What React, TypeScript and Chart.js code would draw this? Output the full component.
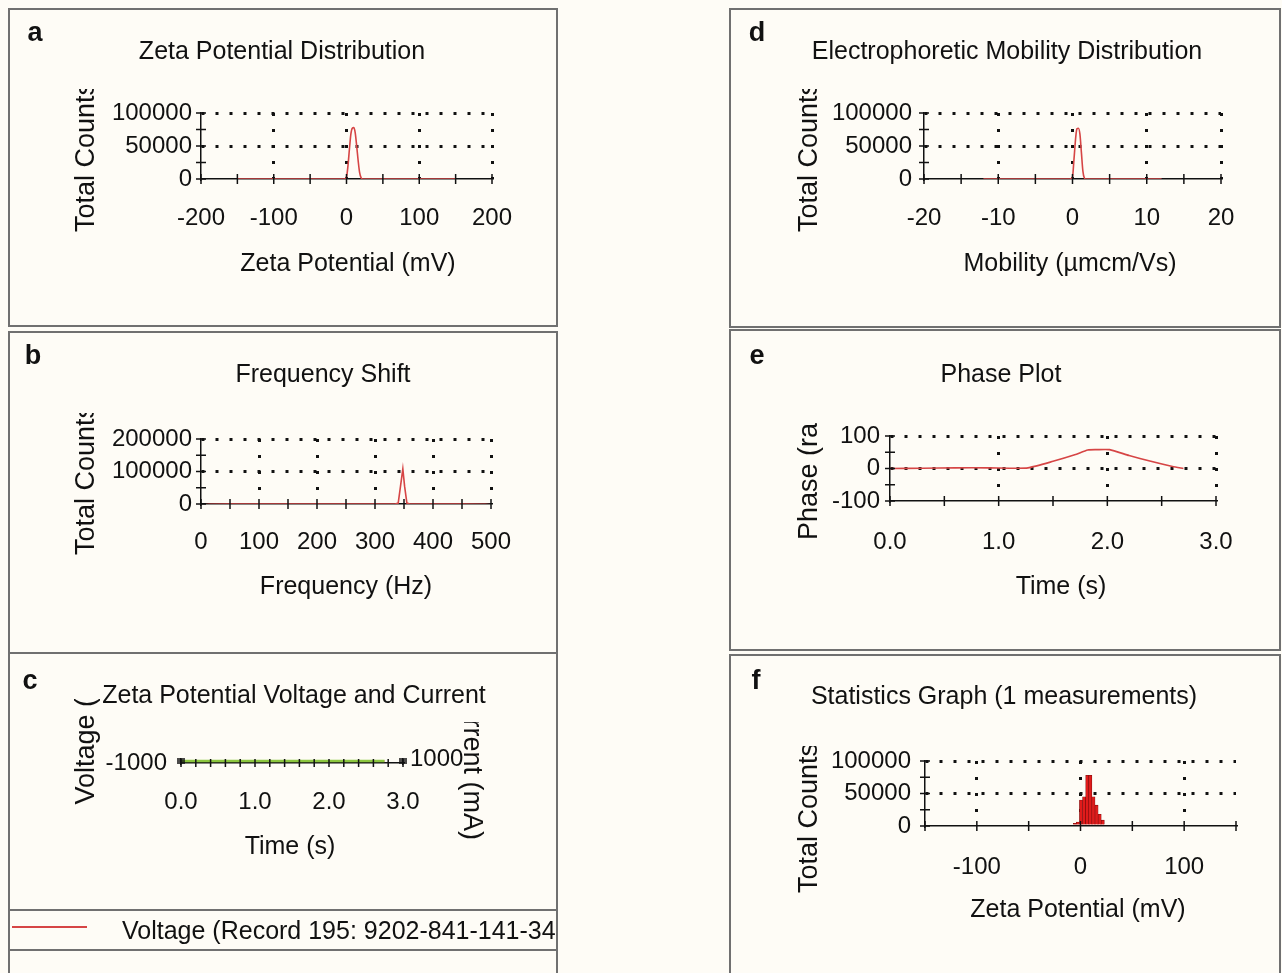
import React, { useEffect, useRef } from 'react';
import { Chart, registerables } from 'chart.js';
Chart.register(...registerables);

// ---------------- data ----------------
// a: Zeta Potential Distribution
const zetaX = [-150, -100, -50, -10, -3, 0, 2, 4, 6, 8, 10, 12, 14, 16, 18, 20, 22, 50, 100, 150];
const zetaY = [0, 0, 0, 0, 0, 3000, 20000, 45000, 68000, 77000, 78000, 70000, 50000, 28000, 10000, 2000, 0, 0, 0, 0];

// b: Frequency Shift
const freqX = [0, 5, 15, 50, 100, 200, 300, 335, 340, 344, 348, 351, 355, 360, 400, 450, 490, 500];
const freqY = [-3000, -2500, -1000, 0, 0, 0, 0, 0, 3000, 55000, 108000, 55000, 3000, 0, 0, 0, -1000, -2500];

// c: Zeta Potential Voltage and Current
const timeC = [0, 0.5, 1.0, 1.5, 2.0, 2.5, 2.75];
const voltageY = [0, 0, 0, 0, 0, 0, 0];
const currentY = [0, 0, 0, 0, 0, 0, 0];

// d: Electrophoretic Mobility Distribution
const mobX = [-12, -8, -4, -1, -0.3, 0, 0.2, 0.45, 0.6, 0.8, 1.0, 1.2, 1.4, 1.6, 1.8, 4, 8, 12];
const mobY = [0, 0, 0, 0, 0, 3000, 30000, 65000, 76000, 77000, 68000, 40000, 12000, 1500, 0, 0, 0, 0];

// e: Phase Plot
const phaseX = [0, 0.3, 0.6, 0.9, 1.1, 1.27, 1.5, 1.7, 1.82, 1.9, 2.02, 2.2, 2.4, 2.6, 2.7];
const phaseY = [0, 1, 2, 2, 1, 2, 22, 42, 57, 58, 58, 40, 22, 6, 0];

// f: Statistics Graph
const statBins = [-5.5, -2.5, 0.5, 3.5, 6.5, 9.5, 12.5, 15.5, 18.5, 21.5];
const statCounts = [4000, 6000, 40000, 45000, 78000, 78000, 45000, 32000, 18000, 9000];

// ---------------- style ----------------
const FONT = "'Liberation Sans', Arial, Helvetica, sans-serif";
const INK = '#111';
const BG = '#fefcf6';
const FRAME = '#707070';
const RED = '#d64545';
const GREEN = '#8cc63f';

type Box = { x: number; y: number; w: number; h: number };
type Plot = { l: number; t: number; r: number; b: number };

interface AxisSpec {
  min: number; max: number; step: number;
  label: (v: number) => string;
  grid: (v: number) => boolean;
  pad: number; size: number; position?: string;
}

const near = (v: number, k: number) => Math.abs(v / k - Math.round(v / k)) < 1e-9;

function axis(spec: AxisSpec, horizontal: boolean) {
  const dash = horizontal ? [3, 13] : [3, 11];
  return {
    type: 'linear',
    position: spec.position ?? (horizontal ? 'bottom' : 'left'),
    min: spec.min,
    max: spec.max,
    offset: false,
    ticks: {
      stepSize: spec.step,
      autoSkip: false,
      maxRotation: 0,
      minRotation: 0,
      padding: spec.pad,
      color: INK,
      font: { family: FONT, size: 24 },
      callback: (v: any) => spec.label(Number(v)),
    },
    grid: {
      drawTicks: false,
      offset: false,
      lineWidth: 3,
      borderDash: dash,
      color: (c: any) => (c.tick && spec.grid(c.tick.value) ? INK : 'rgba(0,0,0,0)'),
    },
    border: { display: true, color: INK, width: 1.5, dash },
    afterFit: (s: any) => {
      if (horizontal) s.height = spec.size;
      else s.width = spec.size;
    },
  };
}

function crossTicks(len: number) {
  return {
    id: 'crossTicks',
    afterDraw(chart: any) {
      const ctx = chart.ctx;
      ctx.save();
      ctx.strokeStyle = INK;
      ctx.lineWidth = 1.5;
      Object.values(chart.scales).forEach((s: any) => {
        s.ticks.forEach((_t: any, i: number) => {
          const p = s.getPixelForTick(i);
          ctx.beginPath();
          if (s.isHorizontal()) {
            const y = s.position === 'bottom' ? s.top : s.bottom;
            ctx.moveTo(p, y - len);
            ctx.lineTo(p, y + len);
          } else {
            const x = s.position === 'left' ? s.right : s.left;
            ctx.moveTo(x - len, p);
            ctx.lineTo(x + len, p);
          }
          ctx.stroke();
        });
      });
      ctx.restore();
    },
  };
}

function padFor(box: Box, plot: Plot, yW: number, xH: number, rW = 0) {
  return {
    left: plot.l - box.x - yW,
    top: plot.t - box.y,
    right: box.x + box.w - plot.r - rW,
    bottom: box.y + box.h - plot.b - xH,
  };
}

const zip = (xs: number[], ys: number[]) => xs.map((x, i) => ({ x, y: ys[i] }));

function baseOptions(padding: any, scales: any) {
  return {
    responsive: false,
    animation: false,
    devicePixelRatio: 1,
    layout: { padding },
    plugins: { legend: { display: false }, tooltip: { enabled: false }, title: { display: false } },
    scales,
  };
}

function lineDs(xs: number[], ys: number[], color: string, extra: any = {}) {
  return {
    data: zip(xs, ys),
    borderColor: color,
    borderWidth: 1.6,
    pointRadius: 0,
    cubicInterpolationMode: 'monotone',
    fill: false,
    ...extra,
  };
}

// ---------------- panels ----------------
const boxA: Box = { x: 8, y: 8, w: 550, h: 318 };
const plotA: Plot = { l: 201, t: 113, r: 492, b: 179 };
const boxB: Box = { x: 8, y: 332, w: 549, h: 321 };
const plotB: Plot = { l: 201, t: 439, r: 491, b: 504 };
const boxC: Box = { x: 8, y: 653, w: 549, h: 320 };
const plotC: Plot = { l: 181, t: 759, r: 403, b: 763 };
const boxD: Box = { x: 729, y: 8, w: 551, h: 319 };
const plotD: Plot = { l: 924, t: 113, r: 1221, b: 179 };
const boxE: Box = { x: 729, y: 330, w: 551, h: 320 };
const plotE: Plot = { l: 890, t: 436, r: 1216, b: 501 };
const boxF: Box = { x: 729, y: 655, w: 551, h: 318 };
const plotF: Plot = { l: 925, t: 761, r: 1236, b: 826 };

const countsY = (pad: number): AxisSpec => ({
  min: 0, max: 100000, step: 25000,
  label: (v) => (near(v, 50000) ? String(v) : ''),
  grid: (v) => v > 0 && near(v, 50000),
  pad, size: 120,
});

function cfgA() {
  return {
    type: 'line',
    data: { datasets: [lineDs(zetaX, zetaY, RED)] },
    options: baseOptions(padFor(boxA, plotA, 120, 60), {
      x: axis({ min: -200, max: 200, step: 50, label: (v) => (near(v, 100) ? String(v) : ''), grid: (v) => v > -200 && near(v, 100), pad: 25, size: 60 }, true),
      y: axis(countsY(9), false),
    }),
    plugins: [crossTicks(5)],
  };
}

function cfgB() {
  return {
    type: 'line',
    data: { datasets: [lineDs(freqX, freqY, RED, { cubicInterpolationMode: 'default', tension: 0 })] },
    options: baseOptions(padFor(boxB, plotB, 120, 60), {
      x: axis({ min: 0, max: 500, step: 50, label: (v) => (near(v, 100) ? String(v) : ''), grid: (v) => v > 0 && near(v, 100), pad: 24, size: 60 }, true),
      y: axis({ min: 0, max: 200000, step: 50000, label: (v) => (near(v, 100000) ? String(v) : ''), grid: (v) => v > 0 && near(v, 100000), pad: 9, size: 120 }, false),
    }),
    plugins: [crossTicks(5)],
  };
}

function cfgC() {
  return {
    type: 'line',
    data: {
      datasets: [
        lineDs(timeC, currentY, GREEN, { yAxisID: 'y1', borderWidth: 2.5 }),
        lineDs(timeC, voltageY, RED, { yAxisID: 'y' }),
      ],
    },
    options: baseOptions(padFor(boxC, plotC, 90, 60, 70), {
      x: axis({ min: 0, max: 3, step: 0.2, label: (v) => (near(v, 1) ? v.toFixed(1) : ''), grid: () => false, pad: 25, size: 60 }, true),
      y: axis({ min: -1000, max: 1000, step: 2000, label: (v) => (v === -1000 ? '-1000' : ''), grid: () => false, pad: 14, size: 90 }, false),
      y1: axis({ min: -1000, max: 1000, step: 2000, label: (v) => (v === 1000 ? '1000' : ''), grid: () => false, pad: 7, size: 70, position: 'right' }, false),
    }),
    plugins: [crossTicks(4)],
  };
}

function cfgD() {
  return {
    type: 'line',
    data: { datasets: [lineDs(mobX, mobY, RED)] },
    options: baseOptions(padFor(boxD, plotD, 120, 60), {
      x: axis({ min: -20, max: 20, step: 5, label: (v) => (near(v, 10) ? String(v) : ''), grid: (v) => v > -20 && near(v, 10), pad: 25, size: 60 }, true),
      y: axis(countsY(12), false),
    }),
    plugins: [crossTicks(5)],
  };
}

function cfgE() {
  return {
    type: 'line',
    data: { datasets: [lineDs(phaseX, phaseY, RED, { cubicInterpolationMode: 'default', tension: 0.2 })] },
    options: baseOptions(padFor(boxE, plotE, 100, 60), {
      x: axis({ min: 0, max: 3, step: 0.5, label: (v) => (near(v, 1) ? v.toFixed(1) : ''), grid: (v) => v > 0 && near(v, 1), pad: 27, size: 60 }, true),
      y: axis({ min: -100, max: 100, step: 50, label: (v) => (near(v, 100) ? String(v) : ''), grid: (v) => v > -100 && near(v, 100), pad: 10, size: 100 }, false),
    }),
    plugins: [crossTicks(5)],
  };
}

function cfgF() {
  return {
    type: 'bar',
    data: {
      datasets: [
        {
          data: zip(statBins, statCounts),
          backgroundColor: '#e01b1b',
          borderColor: '#7a0d0d',
          borderWidth: 0.6,
          barPercentage: 1,
          categoryPercentage: 1,
        },
      ],
    },
    options: baseOptions(padFor(boxF, plotF, 120, 60), {
      x: axis({ min: -150, max: 150, step: 50, label: (v) => (near(v, 100) ? String(v) : ''), grid: (v) => v > -150 && near(v, 100), pad: 27, size: 60 }, true),
      y: axis(countsY(14), false),
    }),
    plugins: [crossTicks(5)],
  };
}

// ---------------- components ----------------
function ChartCanvas({ box, make }: { box: Box; make: () => any }) {
  const ref = useRef<HTMLCanvasElement>(null);
  useEffect(() => {
    const chart = new Chart(ref.current as HTMLCanvasElement, make());
    return () => chart.destroy();
  }, []);
  return (
    <canvas
      ref={ref}
      width={box.w}
      height={box.h}
      style={{ position: 'absolute', left: box.x, top: box.y, width: box.w, height: box.h }}
    />
  );
}

function Frame({ x, y, w, h, sides = 'ltrb' }: { x: number; y: number; w: number; h: number; sides?: string }) {
  const b = `2px solid ${FRAME}`;
  return (
    <div
      style={{
        position: 'absolute', left: x, top: y, width: w, height: h, boxSizing: 'border-box',
        borderLeft: sides.includes('l') ? b : 'none',
        borderTop: sides.includes('t') ? b : 'none',
        borderRight: sides.includes('r') ? b : 'none',
        borderBottom: sides.includes('b') ? b : 'none',
      }}
    />
  );
}

function Txt({ x, y, s = 25, bold = false, children }: { x: number; y: number; s?: number; bold?: boolean; children: any }) {
  return (
    <div
      style={{
        position: 'absolute', left: x, top: y, transform: 'translate(-50%, -50%)',
        font: `${bold ? 'bold ' : ''}${s}px ${FONT}`, lineHeight: 1, whiteSpace: 'nowrap', color: INK,
      }}
    >
      {children}
    </div>
  );
}

function VTitle({ cx, end, clipTop, text, s = 27, dir = 'up' }: { cx: number; end: number; clipTop: number; text: string; s?: number; dir?: string }) {
  const h = end - clipTop + 10;
  return (
    <div style={{ position: 'absolute', left: cx - 25, top: clipTop, width: 50, height: h, overflow: 'hidden' }}>
      <div
        style={{
          position: 'absolute', left: 25 - s / 2, bottom: 10, writingMode: 'vertical-rl' as any,
          transform: dir === 'up' ? 'rotate(180deg)' : undefined,
          font: `${s}px ${FONT}`, lineHeight: `${s}px`, whiteSpace: 'nowrap', color: INK,
        }}
      >
        {text}
      </div>
    </div>
  );
}

export default function App() {
  return (
    <div style={{ position: 'fixed', left: 0, top: 0, width: 1282, height: 973, overflow: 'hidden', background: BG }}>
      <Frame x={8} y={8} w={550} h={319} />
      <Frame x={8} y={331} w={550} h={323} />
      <Frame x={8} y={653} w={550} h={340} sides="lr" />
      <Frame x={729} y={8} w={552} h={320} />
      <Frame x={729} y={329} w={552} h={322} />
      <Frame x={729} y={654} w={552} h={340} sides="ltr" />

      <ChartCanvas box={boxA} make={cfgA} />
      <ChartCanvas box={boxB} make={cfgB} />
      <ChartCanvas box={boxC} make={cfgC} />
      <ChartCanvas box={boxD} make={cfgD} />
      <ChartCanvas box={boxE} make={cfgE} />
      <ChartCanvas box={boxF} make={cfgF} />

      {/* panel letters */}
      <Txt x={35} y={32} s={27} bold>a</Txt>
      <Txt x={33} y={355} s={27} bold>b</Txt>
      <Txt x={30} y={680} s={27} bold>c</Txt>
      <Txt x={757} y={32} s={27} bold>d</Txt>
      <Txt x={757} y={355} s={27} bold>e</Txt>
      <Txt x={756} y={680} s={27} bold>f</Txt>

      {/* titles */}
      <Txt x={282} y={50}>Zeta Potential Distribution</Txt>
      <Txt x={323} y={373}>Frequency Shift</Txt>
      <Txt x={294} y={694}>Zeta Potential Voltage and Current</Txt>
      <Txt x={1007} y={50}>Electrophoretic Mobility Distribution</Txt>
      <Txt x={1001} y={373}>Phase Plot</Txt>
      <Txt x={1004} y={695}>Statistics Graph (1 measurements)</Txt>

      {/* x axis titles */}
      <Txt x={348} y={262}>Zeta Potential (mV)</Txt>
      <Txt x={346} y={585}>Frequency (Hz)</Txt>
      <Txt x={290} y={845}>Time (s)</Txt>
      <Txt x={1070} y={262}>Mobility (µmcm/Vs)</Txt>
      <Txt x={1061} y={585}>Time (s)</Txt>
      <Txt x={1078} y={908}>Zeta Potential (mV)</Txt>

      {/* y axis titles */}
      <VTitle cx={85} end={232} clipTop={89} text="Total Counts" />
      <VTitle cx={85} end={555} clipTop={413} text="Total Counts" />
      <VTitle cx={85} end={805} clipTop={699} text="Voltage (V)" />
      <VTitle cx={472} end={840} clipTop={722} text="Current (mA)" dir="down" />
      <VTitle cx={808} end={232} clipTop={89} text="Total Counts" />
      <VTitle cx={808} end={540} clipTop={422} text="Phase (rad)" />
      <VTitle cx={808} end={893} clipTop={746} text="Total Counts" />

      {/* legend of panel c */}
      <div style={{ position: 'absolute', left: 8, top: 909, width: 549, height: 2, background: FRAME }} />
      <div style={{ position: 'absolute', left: 8, top: 949, width: 549, height: 2, background: FRAME }} />
      <div style={{ position: 'absolute', left: 12, top: 926, width: 75, height: 1.5, background: RED }} />
      <div style={{ position: 'absolute', left: 8, top: 912, width: 549, height: 36, overflow: 'hidden' }}>
        <div style={{ position: 'absolute', left: 114, top: 18, transform: 'translateY(-50%)', font: `25px ${FONT}`, lineHeight: 1, whiteSpace: 'nowrap', color: INK }}>
          Voltage (Record 195: 9202-841-141-3456)
        </div>
      </div>
    </div>
  );
}
